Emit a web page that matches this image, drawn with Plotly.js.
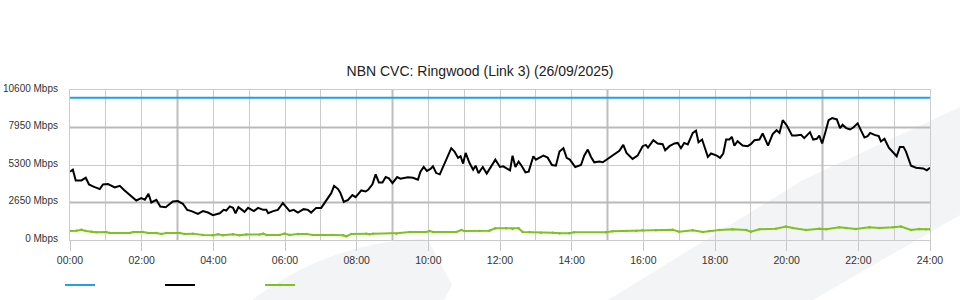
<!DOCTYPE html>
<html>
<head>
<meta charset="utf-8">
<script src="https://cdn.plot.ly/plotly-3.0.1.min.js"></script>
<style>
  html, body { margin: 0; padding: 0; background: #ffffff; }
  #chart { width: 960px; height: 300px; }
</style>
</head>
<body>
<div id="chart"></div>
<script>
// ---- Data (hours of day, Mbps) ----
const chartTitle = "NBN CVC: Ringwood (Link 3) (26/09/2025)";

const capacityHours = [0, 24];
const capacityMbps  = [10050, 10050];

const downHours = [
  0.00, 0.08, 0.16, 0.32, 0.44, 0.53, 0.64, 0.83, 0.92, 1.06, 1.25, 1.39, 1.50, 1.62, 1.71, 1.85, 1.99, 2.09, 2.19, 2.27,
  2.41, 2.52, 2.67, 2.87, 3.01, 3.15, 3.27, 3.39, 3.57, 3.71, 3.85, 3.99, 4.18, 4.29, 4.36, 4.46, 4.55, 4.62, 4.70, 4.87,
  4.97, 5.13, 5.25, 5.39, 5.48, 5.53, 5.67, 5.80, 5.94, 6.13, 6.24, 6.36, 6.52, 6.64, 6.73, 6.87, 7.01, 7.20, 7.29, 7.37,
  7.48, 7.54, 7.64, 7.76, 7.88, 7.97, 8.13, 8.25, 8.32, 8.44, 8.53, 8.62, 8.72, 8.81, 8.90, 9.00, 9.13, 9.22, 9.31, 9.43,
  9.57, 9.71, 9.78, 9.87, 9.96, 10.06, 10.13, 10.22, 10.32, 10.50, 10.64, 10.73, 10.83, 10.90, 10.97, 11.04, 11.15, 11.25, 11.32, 11.40,
  11.52, 11.63, 11.75, 11.87, 12.00, 12.09, 12.28, 12.35, 12.43, 12.52, 12.61, 12.71, 12.80, 12.93, 13.00, 13.12, 13.21, 13.33, 13.45, 13.56,
  13.66, 13.77, 13.86, 13.95, 14.10, 14.26, 14.35, 14.45, 14.54, 14.63, 14.77, 14.87, 15.00, 15.14, 15.33, 15.44, 15.53, 15.70, 15.84, 15.98,
  16.07, 16.13, 16.28, 16.40, 16.54, 16.61, 16.73, 16.87, 16.96, 17.05, 17.14, 17.24, 17.38, 17.47, 17.54, 17.64, 17.80, 17.89, 18.05, 18.14,
  18.23, 18.31, 18.40, 18.47, 18.54, 18.63, 18.77, 18.91, 19.00, 19.10, 19.24, 19.33, 19.48, 19.61, 19.72, 19.80, 19.89, 20.00, 20.15, 20.26,
  20.40, 20.49, 20.65, 20.74, 20.84, 20.91, 20.99, 21.08, 21.17, 21.27, 21.40, 21.49, 21.56, 21.66, 21.77, 21.86, 21.98, 22.07, 22.17, 22.26,
  22.33, 22.45, 22.57, 22.63, 22.73, 22.85, 22.96, 23.07, 23.16, 23.26, 23.33, 23.47, 23.61, 23.72, 23.81, 23.91, 24.00
];
const downMbps = [
  4830, 4970, 4210, 4210, 4400, 3930, 3790, 3600, 3930, 3950, 3720, 3830, 3550, 3270, 3120, 2790, 2960, 2840, 3270, 2650,
  2840, 2370, 2320, 2720, 2750, 2560, 2130, 2040, 1850, 2040, 1940, 1750, 1890, 2130, 2080, 2370, 2270, 1890, 2320, 1990,
  2270, 2040, 2270, 2130, 2130, 1890, 2040, 2130, 2600, 2040, 2130, 1940, 2180, 2130, 1940, 2270, 2270, 2940, 3310, 3830,
  3600, 3360, 2700, 2840, 3170, 3030, 3500, 3430, 3550, 3930, 4640, 4070, 4070, 4450, 4360, 4020, 4450, 4330, 4360, 4430,
  4400, 4260, 4830, 5160, 4880, 5020, 5210, 4730, 4640, 5680, 6490, 6250, 5800, 5920, 5400, 6150, 5440, 4970, 5250, 4730,
  5160, 4690, 5160, 5680, 5160, 5210, 4920, 5960, 5160, 5540, 5210, 4780, 4830, 5920, 5680, 5870, 5960, 5820, 5300, 5250,
  6250, 6490, 5800, 5680, 5160, 5300, 5960, 6390, 5870, 5490, 5540, 5490, 5730, 5960, 6300, 6720, 6150, 5730, 5960, 6630,
  6720, 6530, 7050, 6820, 6770, 6340, 6630, 6820, 6860, 6490, 6860, 6750, 7570, 7720, 6910, 7100, 5870, 6110, 5960, 5800,
  6110, 7100, 7100, 7290, 6670, 6980, 6670, 6630, 6770, 7050, 7100, 7530, 6670, 7480, 7760, 7570, 8470, 8100, 7380, 7380,
  7430, 7200, 7620, 7100, 7150, 7380, 6820, 7620, 8470, 8620, 8520, 7910, 8140, 7910, 7810, 7950, 8240, 7760, 7240, 7340,
  7570, 7430, 7340, 6960, 7150, 6530, 6250, 5920, 6580, 6580, 6250, 5250, 5110, 5110, 5060, 4920, 5110
];

const upHours = [
  0.00, 0.18, 0.32, 0.44, 0.60, 0.73, 1.01, 1.11, 1.67, 1.76, 2.04, 2.18, 2.41, 2.55, 2.69, 3.06, 3.20, 3.43, 3.71, 3.99,
  4.13, 4.27, 4.55, 4.73, 4.92, 5.29, 5.39, 5.48, 5.85, 5.99, 6.13, 6.36, 6.60, 6.78, 7.34, 7.62, 7.71, 7.85, 8.27, 8.36,
  8.46, 9.11, 9.20, 9.48, 9.94, 10.04, 10.13, 10.78, 10.92, 11.01, 11.43, 11.70, 11.87, 12.17, 12.35, 12.52, 12.63, 12.82, 13.14, 13.47,
  13.66, 13.93, 14.07, 14.96, 15.14, 15.52, 15.80, 15.98, 16.35, 16.82, 17.00, 17.38, 17.66, 17.84, 18.12, 18.49, 18.87, 19.00, 19.24, 19.70,
  19.98, 20.17, 20.54, 20.91, 21.10, 21.47, 21.66, 21.93, 22.31, 22.59, 22.96, 23.19, 23.47, 23.70, 23.89, 24.00
];
const upMbps = [
  640, 660, 730, 640, 590, 540, 570, 500, 500, 570, 570, 500, 500, 430, 500, 500, 430, 450, 360, 330,
  400, 330, 400, 330, 380, 380, 450, 360, 360, 450, 360, 430, 430, 360, 360, 330, 260, 430, 450, 400,
  450, 450, 500, 570, 570, 640, 570, 570, 710, 640, 640, 660, 830, 830, 780, 830, 570, 570, 520, 520,
  470, 470, 540, 540, 610, 640, 640, 690, 690, 730, 590, 690, 570, 640, 710, 760, 710, 590, 760, 800,
  950, 850, 710, 800, 760, 900, 850, 780, 900, 850, 900, 950, 710, 780, 760, 760
];

const yTickVals = [0, 2650, 5300, 7950, 10600];
const yTickText = ["0 Mbps", "2650 Mbps", "5300 Mbps", "7950 Mbps", "10600 Mbps"];
const xTickVals = [0, 2, 4, 6, 8, 10, 12, 14, 16, 18, 20, 22, 24];
const xTickText = ["00:00","02:00","04:00","06:00","08:00","10:00","12:00","14:00","16:00","18:00","20:00","22:00","24:00"];
const majorXGrid = [3, 9, 15, 21];
const majorYGrid = [2650, 7950];

// ---- Layout helpers (pixel -> paper) ----
const M = { l: 70, r: 30, t: 90, b: 60 };
const PW = 960 - M.l - M.r, PH = 300 - M.t - M.b;
const px = x => +((x - M.l) / PW).toFixed(4);
const py = y => +((300 - M.b - y) / PH).toFixed(4);

const bandPath = `M${px(608)},${py(300)} L${px(803)},${py(180)} L${px(960)},${py(107)} L${px(960)},${py(215)} L${px(813)},${py(300)} Z`;
const blobPath = `M${px(252)},${py(300)} Q${px(330)},${py(242)} ${px(420)},${py(239)} L${px(428)},${py(240)} L${px(452)},${py(285)} L${px(444)},${py(300)} Z`;

const shapes = [
  { type: 'path', path: bandPath, xref: 'paper', yref: 'paper', fillcolor: '#f3f4f6', line: { width: 0 }, layer: 'below' },
  { type: 'path', path: blobPath, xref: 'paper', yref: 'paper', fillcolor: '#f3f4f6', line: { width: 0 }, layer: 'below' }
];
majorXGrid.forEach(h => shapes.push({
  type: 'line', xref: 'x', yref: 'y', x0: h, x1: h, y0: 0, y1: 10600,
  line: { color: '#bdbdbd', width: 2 }, layer: 'between'
}));
majorYGrid.forEach(v => shapes.push({
  type: 'line', xref: 'x', yref: 'y', x0: 0, x1: 24, y0: v, y1: v,
  line: { color: '#bababa', width: 2 }, layer: 'between'
}));

const traces = [
  { x: capacityHours, y: capacityMbps, name: '', type: 'scatter', mode: 'lines',
    line: { color: '#1fa2e3', width: 2 } },
  { x: downHours, y: downMbps, name: '', type: 'scatter', mode: 'lines',
    line: { color: '#000000', width: 2 } },
  { x: upHours, y: upMbps, name: '', type: 'scatter', mode: 'lines+markers',
    line: { color: '#7ec21f', width: 2 }, marker: { color: '#7ec21f', size: 2.5 } }
];

const xTickFont = { family: 'Liberation Sans, Arial, sans-serif', size: 10.5, color: '#333333' };
const yTickFont = { family: 'Liberation Sans, Arial, sans-serif', size: 10, color: '#333333' };

const layout = {
  width: 960, height: 300,
  margin: M,
  paper_bgcolor: '#ffffff',
  plot_bgcolor: 'rgba(0,0,0,0)',
  title: {
    text: chartTitle,
    font: { family: 'Liberation Sans, Arial, sans-serif', size: 14, color: '#222222' },
    x: 0.5, xref: 'container', xanchor: 'center',
    y: 1 - 71 / 300, yref: 'container', yanchor: 'middle'
  },
  xaxis: {
    range: [0, 24], tickvals: xTickVals, ticktext: xTickText,
    ticks: 'outside', ticklen: 10, tickcolor: '#c8c8c8', tickwidth: 1,
    showgrid: true, gridcolor: '#cbcbcb', gridwidth: 1,
    minor: { dtick: 1, tick0: 0, showgrid: true, gridcolor: '#cbcbcb', gridwidth: 1, ticks: '' },
    showline: true, linecolor: '#cbcbcb', linewidth: 1, mirror: true,
    zeroline: false, tickfont: xTickFont, fixedrange: true, automargin: false
  },
  yaxis: {
    range: [0, 10600], tickvals: yTickVals, ticktext: yTickText,
    ticks: '', ticklabelstandoff: 9, ticklabelshift: -2,
    showgrid: true, gridcolor: '#cbcbcb', gridwidth: 1,
    showline: true, linecolor: '#cbcbcb', linewidth: 1, mirror: true,
    zeroline: false, tickfont: yTickFont, fixedrange: true, automargin: false
  },
  showlegend: true,
  legend: {
    orientation: 'h', x: px(60), xanchor: 'left',
    y: 15 / 300, yref: 'container', yanchor: 'middle',
    entrywidth: 55, entrywidthmode: 'pixels', bgcolor: 'rgba(0,0,0,0)',
    font: xTickFont
  },
  shapes: shapes,
  hovermode: false
};

Plotly.newPlot('chart', traces, layout, { displayModeBar: false, staticPlot: true });
</script>
</body>
</html>
